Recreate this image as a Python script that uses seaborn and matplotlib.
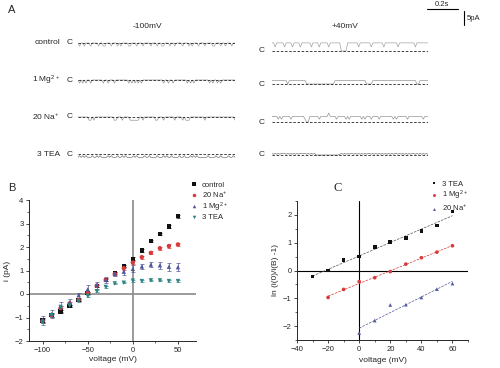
import numpy as np
import pandas as pd
import seaborn as sns
import matplotlib.pyplot as plt
from matplotlib.ticker import MultipleLocator

sns.set_style('ticks')
plt.rcParams['font.family'] = ['Liberation Sans', 'DejaVu Sans']
plt.rcParams['mathtext.default'] = 'regular'
plt.rcParams['font.size'] = 6

W, H = 500, 368

# ---- panel A: single-channel traces (0 closed, 1 half, 2 open, 3 overshoot)
trace_rows = ['control', '1 Mg$^{2+}$', '20 Na$^{+}$', '3 TEA']
amp_neg100 = [-1.1, -1.1, -1.15, -1.2]   # open level at -100 mV (pA)
amp_pos40 = [2.9, 1.2, 2.0, 0.55]        # open level at +40 mV (pA)
tr_neg100 = [
    "0200200020000200220002000202000022000200020000200020022000200200002000202000200020000220002002000200",
    "0202020020000000200200020000000020202020200000000000002002002000000002020200000000020200202000000000",
    "0000000220200000000000022000200002222220020000000220002000000200002022200000000020000000000000000002",
    "2121212221221212222121222122121222212122221221222212221212212222122122212121222222122221221222212212",
]
tr_pos40 = [
    "2212222212222122221222222122221222221222222200002222222122222221222222212222222212222222222122222222",
    "2222222222022222222222000000000000000000222222222222222222220000222222222222222222222222222200222222",
    "2222121222221222222221002222221222223222212222212122222221212221222212222222212122222212222222221222",
    "2121212221212121212222121212000000000000000121212122121212121221212121212121212212121212122121212121",
]
trace_dur = 1.0     # s
scale_t, scale_i = 0.2, 5

# ---- panel B: i-V relation
volt_b = [-100, -90, -80, -70, -60, -50, -40, -30, -20, -10, 0, 10, 20, 30, 40, 50]
i_control = [-1.12, -0.9, -0.75, -0.5, -0.25, 0.03, 0.35, 0.6, 0.9, 1.18, 1.5, 1.85, 2.25, 2.55, 2.88, 3.31]
i_na = [-1.15, -0.9, -0.6, -0.4, -0.25, 0.05, 0.35, 0.6, 0.85, 1.1, 1.34, 1.57, 1.75, 1.95, 2.04, 2.11]
i_mg = [-1.1, -0.85, -0.55, -0.35, -0.05, 0.2, 0.38, 0.6, 0.85, 0.95, 1.07, 1.17, 1.25, 1.22, 1.16, 1.14]
i_tea = [-1.2, -0.9, -0.55, -0.5, -0.3, -0.08, 0.12, 0.3, 0.45, 0.48, 0.57, 0.55, 0.58, 0.58, 0.55, 0.55]
e_control = [0.08, 0.06, 0.05, 0.05, 0.04, 0.05, 0.05, 0.05, 0.05, 0.05, 0.06, 0.05, 0.05, 0.05, 0.06, 0.06]
e_na = [0.1, 0.08, 0.08, 0.06, 0.05, 0.05, 0.06, 0.06, 0.06, 0.06, 0.07, 0.06, 0.06, 0.07, 0.07, 0.08]
e_mg = [0.15, 0.15, 0.2, 0.15, 0.1, 0.2, 0.15, 0.12, 0.1, 0.15, 0.15, 0.1, 0.12, 0.15, 0.18, 0.18]
e_tea = [0.1, 0.08, 0.06, 0.05, 0.05, 0.05, 0.05, 0.04, 0.03, 0.03, 0.04, 0.03, 0.03, 0.03, 0.04, 0.04]
labels_b = ['control', '20 Na$^{+}$', '1 Mg$^{2+}$', '3 TEA']

# ---- panel C: linearised block
volt_tea = [-30, -20, -10, 0, 10, 20, 30, 40, 50, 60]
ln_tea = [-0.22, 0.0, 0.38, 0.5, 0.85, 1.02, 1.16, 1.43, 1.62, 2.12]
volt_mg = [-20, -10, 0, 10, 20, 30, 40, 50, 60]
ln_mg = [-0.97, -0.68, -0.4, -0.26, -0.04, 0.23, 0.46, 0.66, 0.89]
volt_na = [0, 10, 20, 30, 40, 50, 60]
ln_na = [-2.25, -1.8, -1.24, -1.23, -0.97, -0.67, -0.47]
labels_c = ['3 TEA', '1 Mg$^{2+}$', '20 Na$^{+}$']

black, red, blue, teal = '#111111', '#d83a3a', '#50589a', '#2f8585'


def rect(x0, y0, x1, y1):
    return [x0 / W, 1 - y1 / H, (x1 - x0) / W, (y1 - y0) / H]


fig = plt.figure(figsize=(W / 100, H / 100), dpi=100)

# ---------------- A
fig.text(8 / W, 1 - 13 / H, 'A', fontsize=8)
fig.text(147 / W, 1 - 27 / H, '-100mV', ha='center', va='center')
fig.text(345 / W, 1 - 27 / H, '+40mV', ha='center', va='center')
left_y = [43, 80, 117, 154]
right_y = [51, 84, 122, 155]
lev = {'0': 0, '1': 0.5, '2': 1.0, '3': 1.6}
trace_col = ['#9a9a9a', '#8a8a8a', '#8a8a8a', '#666666']
for k in range(4):
    fig.text(60 / W, 1 - left_y[k] / H, trace_rows[k], ha='right', va='center')
    for xs, yc, s, amp, xc in [((78, 235), left_y[k], tr_neg100[k], amp_neg100[k], 70),
                               ((272, 428), right_y[k], tr_pos40[k], amp_pos40[k], 262)]:
        ax = fig.add_axes(rect(xs[0], yc - 14, xs[1], yc + 14))
        t = np.linspace(0, trace_dur, len(s))
        cur = np.array([lev[c] for c in s]) * amp
        sns.lineplot(x=t, y=cur, color=trace_col[k], lw=0.45, estimator=None, ax=ax)
        ax.axhline(0, color='#222222', lw=0.6, ls=(0, (3, 2)))
        ax.set_xlim(0, trace_dur)
        ax.set_ylim(-5, 5)
        ax.axis('off')
        fig.text(xc / W, 1 - yc / H, 'C', ha='center', va='center')

# scale bars
ax_s = fig.add_axes(rect(420, 0, 480, 30))
ax_s.set_xlim(0, 60 / 157 * trace_dur)
ax_s.set_ylim(0, 30 / 2.8)
ax_s.plot([0.045, 0.045 + scale_t], [7.5, 7.5], color='k', lw=0.8)
ax_s.plot([0.28, 0.28], [1.8, 1.8 + scale_i], color='k', lw=0.8)
ax_s.axis('off')
fig.text(442 / W, 1 - 4 / H, '0.2s', ha='center', va='center', fontsize=5.5)
fig.text(467 / W, 1 - 18 / H, '5pA', ha='left', va='center', fontsize=5.5)

# ---------------- B
ax_b = fig.add_axes(rect(29, 200, 196, 341))
ax_b.axhline(0, color='#8a8a8a', lw=1.2, zorder=0)
ax_b.axvline(0, color='#8a8a8a', lw=1.2, zorder=0)
df_b = pd.concat([pd.DataFrame({'voltage': volt_b, 'current': i, 'err': e, 'cond': lab})
                  for i, e, lab in zip([i_control, i_na, i_mg, i_tea],
                                       [e_control, e_na, e_mg, e_tea], labels_b)])
pal_b = dict(zip(labels_b, [black, red, blue, teal]))
mk_b = dict(zip(labels_b, ['s', 'o', '^', 'v']))
for lab in labels_b:
    d = df_b[df_b.cond == lab]
    ax_b.errorbar(d.voltage, d.current, yerr=d.err, fmt='none', ecolor=pal_b[lab],
                  elinewidth=0.5, capsize=1.2, capthick=0.5)
sns.scatterplot(data=df_b, x='voltage', y='current', hue='cond', style='cond',
                hue_order=labels_b, style_order=labels_b, palette=pal_b, markers=mk_b,
                s=10, edgecolor='none', ax=ax_b, zorder=3)
h, l = ax_b.get_legend_handles_labels()
ax_b.get_legend().remove()
ax_b.legend(h, l, loc='upper left', bbox_to_anchor=(186 / W, 1 - 178 / H),
            bbox_transform=fig.transFigure, frameon=False, fontsize=5.5,
            handlelength=1.2, handletextpad=0.4, labelspacing=0.05, borderpad=0,
            markerscale=0.8)
ax_b.set_xlim(-115, 70)
ax_b.set_ylim(-2, 4)
ax_b.xaxis.set_major_locator(MultipleLocator(50))
ax_b.xaxis.set_minor_locator(MultipleLocator(25))
ax_b.yaxis.set_major_locator(MultipleLocator(1))
ax_b.yaxis.set_minor_locator(MultipleLocator(0.5))
ax_b.set_xlabel('voltage (mV)', fontsize=6, labelpad=2)
ax_b.set_ylabel('i (pA)', fontsize=6, labelpad=3)
fig.text(8 / W, 1 - 191 / H, 'B', fontsize=8)

# ---------------- C
ax_c = fig.add_axes(rect(297, 201, 468, 340))
ax_c.axhline(0, color='k', lw=0.8, zorder=0)
ax_c.axvline(0, color='k', lw=0.8, zorder=0)
df_c = pd.concat([pd.DataFrame({'voltage': v, 'ln': y, 'cond': lab})
                  for v, y, lab in zip([volt_tea, volt_mg, volt_na], [ln_tea, ln_mg, ln_na], labels_c)])
pal_c = dict(zip(labels_c, [black, red, blue]))
mk_c = dict(zip(labels_c, ['s', 'o', '^']))
for lab in labels_c:
    d = df_c[df_c.cond == lab]
    sns.regplot(data=d, x='voltage', y='ln', scatter=False, ci=None, truncate=True,
                line_kws=dict(ls='--', lw=0.5, color=pal_c[lab] if lab != '3 TEA' else '#555555'),
                ax=ax_c)
sns.scatterplot(data=df_c, x='voltage', y='ln', hue='cond', style='cond',
                hue_order=labels_c, style_order=labels_c, palette=pal_c, markers=mk_c,
                s=7, edgecolor='none', ax=ax_c, zorder=3)
h, l = ax_c.get_legend_handles_labels()
ax_c.get_legend().remove()
ax_c.legend(h, l, loc='upper left', bbox_to_anchor=(426 / W, 1 - 177 / H),
            bbox_transform=fig.transFigure, frameon=False, fontsize=5.5,
            handlelength=1.2, handletextpad=0.4, labelspacing=0.1, borderpad=0,
            markerscale=0.8)
ax_c.set_xlim(-40, 70)
ax_c.set_ylim(-2.5, 2.5)
ax_c.xaxis.set_major_locator(MultipleLocator(20))
ax_c.xaxis.set_minor_locator(MultipleLocator(10))
ax_c.yaxis.set_major_locator(MultipleLocator(1))
ax_c.yaxis.set_minor_locator(MultipleLocator(0.5))
ax_c.set_xlabel('voltage (mV)', fontsize=6, labelpad=3)
ax_c.set_ylabel('ln (i(0)/i(B) -1)', fontsize=6, labelpad=3)
fig.text(334 / W, 1 - 191 / H, 'C', fontsize=9, family=['Liberation Serif', 'DejaVu Serif'])

for ax in (ax_b, ax_c):
    sns.despine(ax=ax)
    for sp in ('left', 'bottom'):
        ax.spines[sp].set_linewidth(0.7)
    ax.tick_params(which='major', length=2.5, width=0.6, labelsize=5.5, pad=1.5)
    ax.tick_params(which='minor', length=1.5, width=0.5)

fig.savefig('out.png', dpi=100)
